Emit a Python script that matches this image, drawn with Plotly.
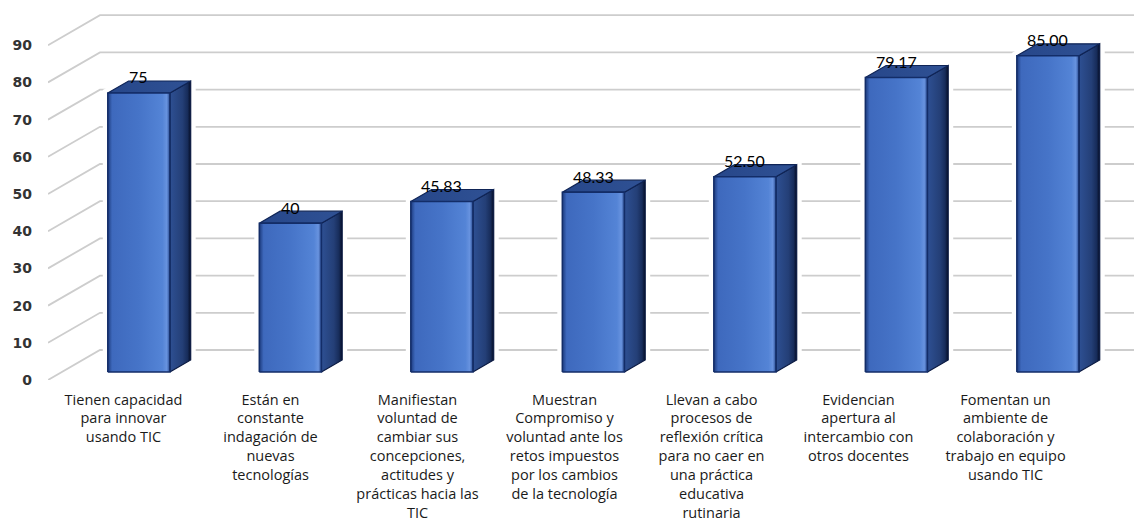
import plotly.graph_objects as go

# ---------------- data ----------------
categories = [
    "Tienen capacidad<br>para innovar<br>usando TIC",
    "Están en<br>constante<br>indagación de<br>nuevas<br>tecnologías",
    "Manifiestan<br>voluntad de<br>cambiar sus<br>concepciones,<br>actitudes y<br>prácticas hacia las<br>TIC",
    "Muestran<br>Compromiso y<br>voluntad ante los<br>retos impuestos<br>por los cambios<br>de la tecnología",
    "Llevan a cabo<br>procesos de<br>reflexión crítica<br>para no caer en<br>una práctica<br>educativa<br>rutinaria",
    "Evidencian<br>apertura al<br>intercambio con<br>otros docentes",
    "Fomentan un<br>ambiente de<br>colaboración y<br>trabajo en equipo<br>usando TIC",
]
values = [75, 40, 45.83, 48.33, 52.50, 79.17, 85.00]
value_labels = ["75", "40", "45.83", "48.33", "52.50", "79.17", "85.00"]
y_ticks = [0, 10, 20, 30, 40, 50, 60, 70, 80, 90]

# ---------------- 3D projection style ----------------
X_RANGE = [-0.508, 6.66]      # front-plane category axis
Y_RANGE = [0, 102.15]
X2_RANGE = [-0.5136, 6.874]   # label axis
DX = 0.343                    # full-depth shift (category units)
DY = 8.06                     # full-depth shift (value units)
D0, D1 = 0.267, 0.667         # bar front / back depth fractions
HALF_W = 0.205                # half bar width (category units)


def proj(x, v, d):
    return x + d * DX, v + d * DY


fig = go.Figure()

# back wall + side wall gridlines
gx, gy = [], []
for v in y_ticks:
    x0, y0 = proj(X_RANGE[0], v, 0)
    x1, y1 = proj(X_RANGE[0], v, 1)
    gx += [x0, x1, X_RANGE[1], None]
    gy += [y0, y1, y1, None]
fig.add_trace(go.Scatter(x=gx, y=gy, mode="lines",
                         line=dict(color="#cdcdcd", width=1.8),
                         hoverinfo="skip", showlegend=False))

front_scale = [[0, "#1c3a7c"], [0.07, "#3e69bd"], [0.5, "#4674c8"],
               [0.88, "#5484d6"], [0.95, "#6893df"], [1, "#28498e"]]
side_scale = [[0, "#2e5093"], [0.6, "#243f77"], [0.85, "#172c5a"], [1, "#050d26"]]
top_scale = [[0, "#27478a"], [1, "#2f5194"]]

for i, v in enumerate(values):
    xl, yb = proj(i - HALF_W, 0, D0)
    xr, yt = proj(i + HALF_W, v, D0)
    xl_b, yb_b = proj(i - HALF_W, 0, D1)
    xr_b, yt_b = proj(i + HALF_W, v, D1)
    # white halo behind the bar (breaks gridlines)
    fig.add_trace(go.Scatter(
        x=[xl, xr, xr_b, xr_b, xl_b, xl, xl],
        y=[yb, yb, yb_b, yt_b, yt_b, yt, yb],
        fill="toself", fillcolor="white", mode="lines",
        line=dict(color="white", width=10),
        hoverinfo="skip", showlegend=False))
    # side face
    fig.add_trace(go.Scatter(
        x=[xr, xr_b, xr_b, xr, xr], y=[yb, yb_b, yt_b, yt, yb],
        fill="toself", mode="lines",
        fillgradient=dict(type="horizontal", colorscale=side_scale),
        line=dict(color="#0b1a42", width=1.2),
        hoverinfo="skip", showlegend=False))
    # top face
    fig.add_trace(go.Scatter(
        x=[xl, xr, xr_b, xl_b, xl], y=[yt, yt, yt_b, yt_b, yt],
        fill="toself", mode="lines",
        fillgradient=dict(type="horizontal", colorscale=top_scale),
        line=dict(color="#0f2456", width=1.2),
        hoverinfo="skip", showlegend=False))
    # front face
    fig.add_trace(go.Scatter(
        x=[xl, xr, xr, xl, xl], y=[yb, yb, yt, yt, yb],
        fill="toself", mode="lines",
        fillgradient=dict(type="horizontal", colorscale=front_scale),
        line=dict(color="#132d68", width=1.5),
        name=str(v), showlegend=False))
    # value label
    fig.add_annotation(x=(xl + xr) / 2, y=yt, yshift=16, text=value_labels[i],
                       showarrow=False, xanchor="center", yanchor="middle",
                       font=dict(family="Lato", size=16, color="#000000"))

# invisible trace carrying the category label axis
fig.add_trace(go.Scatter(x=[0], y=[0], xaxis="x2", mode="markers",
                         marker=dict(opacity=0), hoverinfo="skip",
                         showlegend=False))

fig.update_layout(
    width=1134, height=520,
    margin=dict(l=48, r=0, t=0, b=140, autoexpand=False),
    paper_bgcolor="white", plot_bgcolor="white",
    xaxis=dict(range=X_RANGE, showgrid=False, zeroline=False,
               showticklabels=False, showline=False, fixedrange=True,
               automargin=False),
    xaxis2=dict(range=X2_RANGE, overlaying="x", anchor="y", side="bottom",
                tickmode="array", tickvals=list(range(len(categories))),
                ticktext=categories, showgrid=False, zeroline=False,
                showline=False, ticks="", ticklabelstandoff=9,
                tickfont=dict(family="Open Sans", size=14.5, color="#1a1a1a"),
                tickangle=0, fixedrange=True, automargin=False),
    yaxis=dict(range=Y_RANGE, tickmode="array", tickvals=y_ticks,
               showgrid=False, zeroline=False, showline=False, ticks="",
               ticklabelstandoff=15, automargin=False,
               tickfont=dict(family="DejaVu Sans", size=14, color="#333333",
                             weight="bold"),
               fixedrange=True),
)

fig.write_html("out.html", config={"displayModeBar": False},
               post_script="document.body.style.margin='0';"
                           "document.body.style.overflow='hidden';")
